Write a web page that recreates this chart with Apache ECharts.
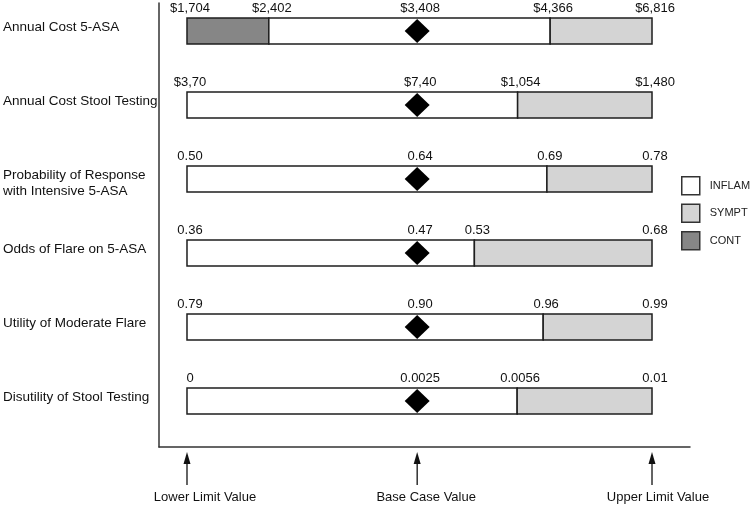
<!DOCTYPE html>
<html><head><meta charset="utf-8">
<script src="https://cdn.jsdelivr.net/npm/echarts@6/dist/echarts.min.js"></script>
<style>html,body{margin:0;padding:0;background:#fff}#c{width:750px;height:506px}</style>
</head><body><div id="c"></div>
<script>
// Rows (top to bottom)
const categories = ['Annual Cost 5-ASA','Annual Cost Stool Testing','Probability of Response\nwith Intensive 5-ASA','Odds of Flare on 5-ASA','Utility of Moderate Flare','Disutility of Stool Testing'];
// Positions on a normalised scale: 0 = lower limit, 100 = upper limit (schematic, as in the figure)
const lowerPos     = [0, 0, 0, 0, 0, 0];
const contEndPos   = [17.6, null, null, null, null, null];
const basePos      = [49.5, 49.5, 49.5, 49.5, 49.5, 49.5];
const inflamEndPos = [78.1, 71.1, 77.4, 61.8, 76.6, 71.0];
const upperPos     = [100, 100, 100, 100, 100, 100];
// Printed values
const lowerLabels  = ['$1,704','$3,70','0.50','0.36','0.79','0'];
const contLabels   = ['$2,402','','','','',''];
const baseLabels   = ['$3,408','$7,40','0.64','0.47','0.90','0.0025'];
const switchLabels = ['$4,366','$1,054','0.69','0.53','0.96','0.0056'];
const upperLabels  = ['$6,816','$1,480','0.78','0.68','0.99','0.01'];
const arrowLabels  = ['Lower Limit Value','Base Case Value','Upper Limit Value'];
const arrowPos     = [0, 49.5, 100];
const legendNames  = ['INFLAM','SYMPT','CONT'];

const FONT = '"Liberation Sans", Arial, Helvetica, sans-serif';
const COLORS = {INFLAM:'#ffffff', SYMPT:'#d4d4d4', CONT:'#868686'};
const ARROW_TEXT_DX = [18, 9, 6];

const contData = [], inflamData = [], symptData = [];
categories.forEach((c, i) => {
  if (contEndPos[i] != null) contData.push([i, lowerPos[i], contEndPos[i]]);
  inflamData.push([i, contEndPos[i] != null ? contEndPos[i] : lowerPos[i], inflamEndPos[i]]);
  symptData.push([i, inflamEndPos[i], upperPos[i]]);
});

const valueItems = [];
categories.forEach((c, i) => {
  valueItems.push([lowerPos[i], i, lowerLabels[i]]);
  if (contLabels[i]) valueItems.push([contEndPos[i], i, contLabels[i]]);
  valueItems.push([basePos[i], i, baseLabels[i]]);
  valueItems.push([inflamEndPos[i], i, switchLabels[i]]);
  valueItems.push([upperPos[i], i, upperLabels[i]]);
});

function segRender(params, api) {
  const row = api.value(0), s = api.value(1), e = api.value(2);
  const p0 = api.coord([s, row]), p1 = api.coord([e, row]);
  const h = 26;
  return {type:'rect', shape:{x:p0[0], y:p0[1]-h/2, width:p1[0]-p0[0], height:h},
    style:{fill:api.visual('color'), stroke:'#1e1e1e', lineWidth:1.5}};
}
function segSeries(name, data) {
  return {type:'custom', name, data, renderItem:segRender, encode:{x:[1,2], y:0},
    itemStyle:{color:COLORS[name]}, silent:true};
}

const option = {
  animation:false,
  backgroundColor:'#fff',
  grid:{left:159, right:60, top:3, bottom:59},
  xAxis:{type:'value', min:-6.02, max:108.17, axisLine:{show:true, onZero:false, lineStyle:{color:'#333', width:1.5}},
    axisTick:{show:false}, axisLabel:{show:false}, splitLine:{show:false}},
  yAxis:{type:'value', inverse:true, min:-0.378, max:5.622, axisLine:{show:true, onZero:false, lineStyle:{color:'#333', width:1.5}},
    axisTick:{show:false}, axisLabel:{show:false}, splitLine:{show:false}},
  legend:{orient:'vertical', left:676, top:171, itemWidth:18, itemHeight:18, itemGap:8, icon:'rect',
    selectedMode:false,
    textStyle:{fontFamily:FONT, fontSize:11, color:'#222', padding:[0,0,0,5]},
    data:legendNames.map(n => ({name:n, itemStyle:{color:COLORS[n], borderColor:'#333', borderWidth:1.5}}))},
  series:[
    segSeries('CONT', contData),
    segSeries('INFLAM', inflamData),
    segSeries('SYMPT', symptData),
    {type:'scatter', name:'Base case', data:basePos.map((v,i)=>[v,i]), symbol:'diamond', symbolSize:[25,24],
      itemStyle:{color:'#000', opacity:1}, silent:true, z:5},
    {type:'custom', name:'values', data:valueItems.map(d=>[d[0], d[1]]), encode:{x:0, y:1}, silent:true, z:6,
      renderItem:function(params, api){
        const p = api.coord([api.value(0), api.value(1)]);
        return {type:'text', x:p[0]+3, y:p[1]-23,
          style:{text:valueItems[params.dataIndex][2], fill:'#111', font:'13px '+FONT, align:'center', verticalAlign:'middle'}};
      }},
    {type:'custom', name:'names', data:categories.map((c,i)=>[0,i]), encode:{x:0, y:1}, silent:true,
      renderItem:function(params, api){
        const p = api.coord([0, api.value(1)]);
        const txt = categories[params.dataIndex];
        const dy = txt.indexOf('\n') >= 0 ? 4 : -4;
        return {type:'text', x:3, y:p[1]+dy,
          style:{text:txt, fill:'#111', font:'13.5px '+FONT, lineHeight:16, align:'left', verticalAlign:'middle'}};
      }},
    {type:'custom', name:'arrows', data:arrowPos.map(v=>[v, 0]), encode:{x:0, y:1}, silent:true,
      renderItem:function(params, api){
        const x = api.coord([api.value(0), 0])[0];
        const cs = params.coordSys;
        const axisY = cs.y + cs.height;
        const tip = axisY + 5, tail = axisY + 38;
        return {type:'group', children:[
          {type:'line', shape:{x1:x, y1:tip+8, x2:x, y2:tail}, style:{stroke:'#111', lineWidth:1.3}},
          {type:'polygon', shape:{points:[[x, tip],[x-3.5, tip+12],[x+3.5, tip+12]]}, style:{fill:'#111'}},
          {type:'text', x:x+ARROW_TEXT_DX[params.dataIndex], y:axisY+50, style:{text:arrowLabels[params.dataIndex], fill:'#111', font:'13px '+FONT, align:'center', verticalAlign:'middle'}}
        ]};
      }}
  ]
};
echarts.init(document.getElementById('c'), null, {renderer:'canvas'}).setOption(option);
</script></body></html>
